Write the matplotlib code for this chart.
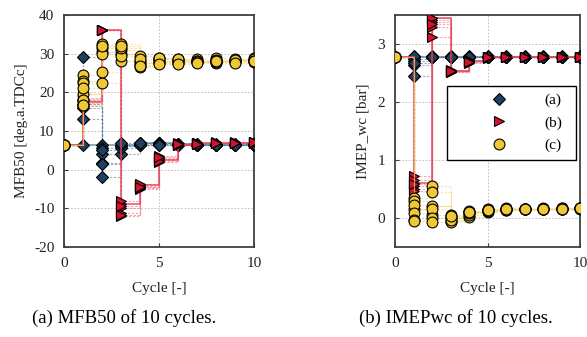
import matplotlib
matplotlib.use("Agg")
import matplotlib.pyplot as plt
from matplotlib.lines import Line2D

plt.rcParams['font.family'] = ['Liberation Serif', 'DejaVu Serif']
plt.rcParams['axes.unicode_minus'] = False

cycles = [0, 1, 2, 3, 4, 5, 6, 7, 8, 9, 10]
group_labels = ['(a)', '(b)', '(c)']

# MFB50 [deg.a.TDCc] - first run of each group is the solid one
mfb_a = [
    [6.5, 6.5, 6.5, 6.5, 6.8, 6.8, 6.6, 6.5, 6.5, 6.5, 6.5],
    [6.5, 29.2, 5.5, 6.2, 6.5, 6.9, 6.5, 6.4, 6.6, 6.5, 6.4],
    [6.5, 13.2, 1.8, 4.0, 6.3, 6.6, 6.4, 6.5, 6.3, 6.6, 6.5],
    [6.5, 16.0, -2.0, 6.0, 7.0, 6.5, 6.7, 6.4, 6.5, 6.4, 6.6],
    [6.5, 17.0, 4.0, 5.5, 6.6, 7.0, 6.5, 6.6, 6.4, 6.5, 6.5],
    [6.5, 16.5, 5.0, 6.5, 6.4, 6.7, 6.6, 6.5, 6.5, 6.6, 6.4],
    [6.5, 18.0, 1.5, 6.8, 6.9, 6.4, 6.5, 6.6, 6.5, 6.5, 6.6],
]
mfb_b = [
    [6.5, 17.5, 36.0, -9.0, -4.0, 2.5, 6.5, 6.8, 6.9, 7.0, 7.0],
    [6.5, 18.2, 36.0, -12.0, -4.5, 3.0, 6.8, 6.9, 6.8, 6.9, 7.1],
    [6.5, 17.0, 36.0, -8.2, -5.0, 2.0, 6.4, 6.7, 7.0, 6.8, 6.9],
    [6.5, 18.5, 36.0, -10.0, -4.2, 3.5, 6.6, 7.0, 6.9, 7.1, 7.0],
    [6.5, 17.3, 36.0, -11.2, -3.8, 2.8, 6.5, 6.8, 6.8, 7.0, 7.2],
    [6.5, 17.8, 36.0, -9.5, -4.8, 2.2, 6.7, 6.9, 7.1, 6.9, 6.9],
    [6.5, 18.0, 36.0, -11.8, -4.4, 3.2, 6.6, 6.7, 6.9, 7.0, 7.1],
]
mfb_c = [
    [6.5, 19.5, 30.5, 30.0, 27.5, 28.0, 28.0, 28.0, 28.2, 28.3, 28.3],
    [6.5, 24.5, 32.5, 32.5, 29.5, 29.0, 28.5, 28.6, 28.8, 28.7, 28.9],
    [6.5, 23.0, 22.3, 28.0, 26.5, 27.5, 27.5, 27.8, 27.6, 27.9, 27.8],
    [6.5, 22.5, 25.3, 31.0, 28.0, 28.5, 28.3, 28.0, 28.4, 28.2, 28.0],
    [6.5, 21.0, 31.5, 29.5, 27.0, 27.8, 27.8, 28.2, 27.9, 28.0, 28.5],
    [6.5, 18.0, 30.0, 31.5, 28.5, 28.8, 28.6, 27.9, 28.1, 28.4, 28.1],
    [6.5, 16.8, 32.0, 32.0, 26.8, 27.3, 27.2, 27.6, 28.0, 27.7, 28.2],
]

# IMEP_wc [bar]
imep_a = [
    [2.78, 2.78, 2.78, 2.78, 2.78, 2.78, 2.78, 2.78, 2.78, 2.78, 2.78],
    [2.78, 2.45, 2.78, 2.79, 2.78, 2.78, 2.79, 2.78, 2.78, 2.79, 2.78],
    [2.78, 2.63, 2.77, 2.78, 2.79, 2.78, 2.78, 2.78, 2.79, 2.78, 2.78],
    [2.78, 2.70, 2.78, 2.77, 2.78, 2.79, 2.78, 2.79, 2.78, 2.78, 2.79],
    [2.78, 2.75, 2.79, 2.78, 2.78, 2.78, 2.77, 2.78, 2.78, 2.78, 2.78],
    [2.78, 2.80, 2.78, 2.78, 2.77, 2.78, 2.78, 2.78, 2.77, 2.78, 2.78],
    [2.78, 2.67, 2.78, 2.78, 2.78, 2.77, 2.78, 2.77, 2.78, 2.78, 2.78],
]
imep_b = [
    [2.78, 0.60, 3.45, 2.53, 2.70, 2.77, 2.78, 2.78, 2.78, 2.78, 2.78],
    [2.78, 0.73, 3.42, 2.52, 2.68, 2.76, 2.78, 2.78, 2.78, 2.78, 2.78],
    [2.78, 0.65, 3.30, 2.55, 2.72, 2.78, 2.78, 2.78, 2.78, 2.78, 2.78],
    [2.78, 0.55, 3.12, 2.53, 2.69, 2.77, 2.78, 2.78, 2.78, 2.78, 2.78],
    [2.78, 0.50, 3.38, 2.54, 2.71, 2.78, 2.78, 2.78, 2.78, 2.78, 2.78],
    [2.78, 0.47, 3.45, 2.52, 2.70, 2.77, 2.78, 2.78, 2.78, 2.78, 2.78],
    [2.78, 0.58, 3.35, 2.53, 2.69, 2.78, 2.78, 2.78, 2.78, 2.78, 2.78],
]
imep_c = [
    [2.78, 0.15, 0.20, 0.00, 0.10, 0.13, 0.15, 0.15, 0.16, 0.16, 0.17],
    [2.78, 0.35, 0.55, 0.05, 0.12, 0.15, 0.17, 0.16, 0.17, 0.17, 0.17],
    [2.78, 0.30, 0.45, -0.05, 0.02, 0.10, 0.13, 0.15, 0.15, 0.16, 0.17],
    [2.78, 0.22, 0.05, -0.07, 0.05, 0.12, 0.14, 0.15, 0.16, 0.16, 0.16],
    [2.78, 0.08, 0.15, 0.02, 0.08, 0.14, 0.16, 0.16, 0.16, 0.17, 0.17],
    [2.78, -0.03, 0.00, -0.04, 0.10, 0.13, 0.15, 0.15, 0.16, 0.16, 0.17],
    [2.78, -0.05, -0.07, 0.03, 0.11, 0.14, 0.16, 0.15, 0.16, 0.16, 0.17],
]

styles = [
    dict(face='#1f3f63', line='#56779c', solid='#56779c', salpha=0.8,
         slw=1.1, marker='D', ms=6.2, z=3),
    dict(face='#d8102c', line='#f06a7c', solid='#e8405a', salpha=0.95,
         slw=1.1, marker='>', ms=7.8, z=4),
    dict(face='#f0c836', line='#f3d36a', solid='#f5d36a', salpha=0.7,
         slw=0.9, marker='o', ms=7.8, z=5),
]

fig = plt.figure(figsize=(5.87, 3.37), dpi=100)
ax1 = fig.add_axes([64 / 587, 1 - 247 / 337, 190 / 587, 232 / 337])
ax2 = fig.add_axes([395 / 587, 1 - 247 / 337, 185 / 587, 232 / 337])


def draw(ax, groups):
    for g, st in zip(groups, styles):
        for i, run in enumerate(g):
            if i == 0:
                ax.plot(cycles, run, drawstyle='steps-post', color=st['solid'],
                        lw=st['slw'], alpha=st['salpha'], zorder=st['z'] - 0.5)
            else:
                ax.plot(cycles, run, drawstyle='steps-post', color=st['line'],
                        lw=0.8, alpha=0.6, ls=(0, (2, 1.5)), zorder=2)
        for run in g:
            ax.plot(cycles, run, ls='none', marker=st['marker'], ms=st['ms'],
                    mfc=st['face'], mec='black', mew=0.8, zorder=st['z'])


def style(ax, ylim, yticks, ylabel, ylpad):
    ax.set_xlim(0, 10)
    ax.set_ylim(*ylim)
    ax.set_xticks([0, 5, 10])
    ax.set_yticks(yticks)
    ax.grid(True, color='#b8b8b8', ls=(0, (2, 2)), lw=0.6)
    ax.set_axisbelow(True)
    for s in ax.spines.values():
        s.set_color('#404040')
        s.set_linewidth(1.3)
    ax.tick_params(direction='in', length=3, width=0.8, colors='#404040',
                   labelcolor='#222222', labelsize=11, pad=7)
    ax.set_xlabel('Cycle [-]', fontsize=11, color='#222222', labelpad=9)
    ax.set_ylabel(ylabel, fontsize=11, color='#222222', labelpad=ylpad)


draw(ax1, [mfb_a, mfb_b, mfb_c])
draw(ax2, [imep_a, imep_b, imep_c])
style(ax1, (-20, 40), [-20, -10, 0, 10, 20, 30, 40], 'MFB50 [deg.a.TDCc]', 4)
style(ax2, (-0.5, 3.5), [0, 1, 2, 3], 'IMEP_wc [bar]', 6)

handles = [Line2D([], [], ls='none', marker=st['marker'], ms=st['ms'],
                  mfc=st['face'], mec='black', mew=0.8) for st in styles]
leg = ax2.legend(handles, group_labels, loc='upper left',
                 bbox_to_anchor=(0.28, 0.694, 0.70, 0.0), mode='expand',
                 borderaxespad=0, borderpad=0.5, labelspacing=0.55,
                 handlelength=5.85, handletextpad=0.05, fontsize=11,
                 fancybox=False, framealpha=1, edgecolor='black')
leg.get_frame().set_linewidth(1.0)
leg.set_zorder(10)

fig.text(124 / 587, 1 - 318 / 337, '(a) MFB50 of 10 cycles.', ha='center',
         va='center', fontsize=13.5)
fig.text(456 / 587, 1 - 318 / 337, '(b) IMEPwc of 10 cycles.', ha='center',
         va='center', fontsize=13.5)

fig.savefig('out.png', dpi=100)
